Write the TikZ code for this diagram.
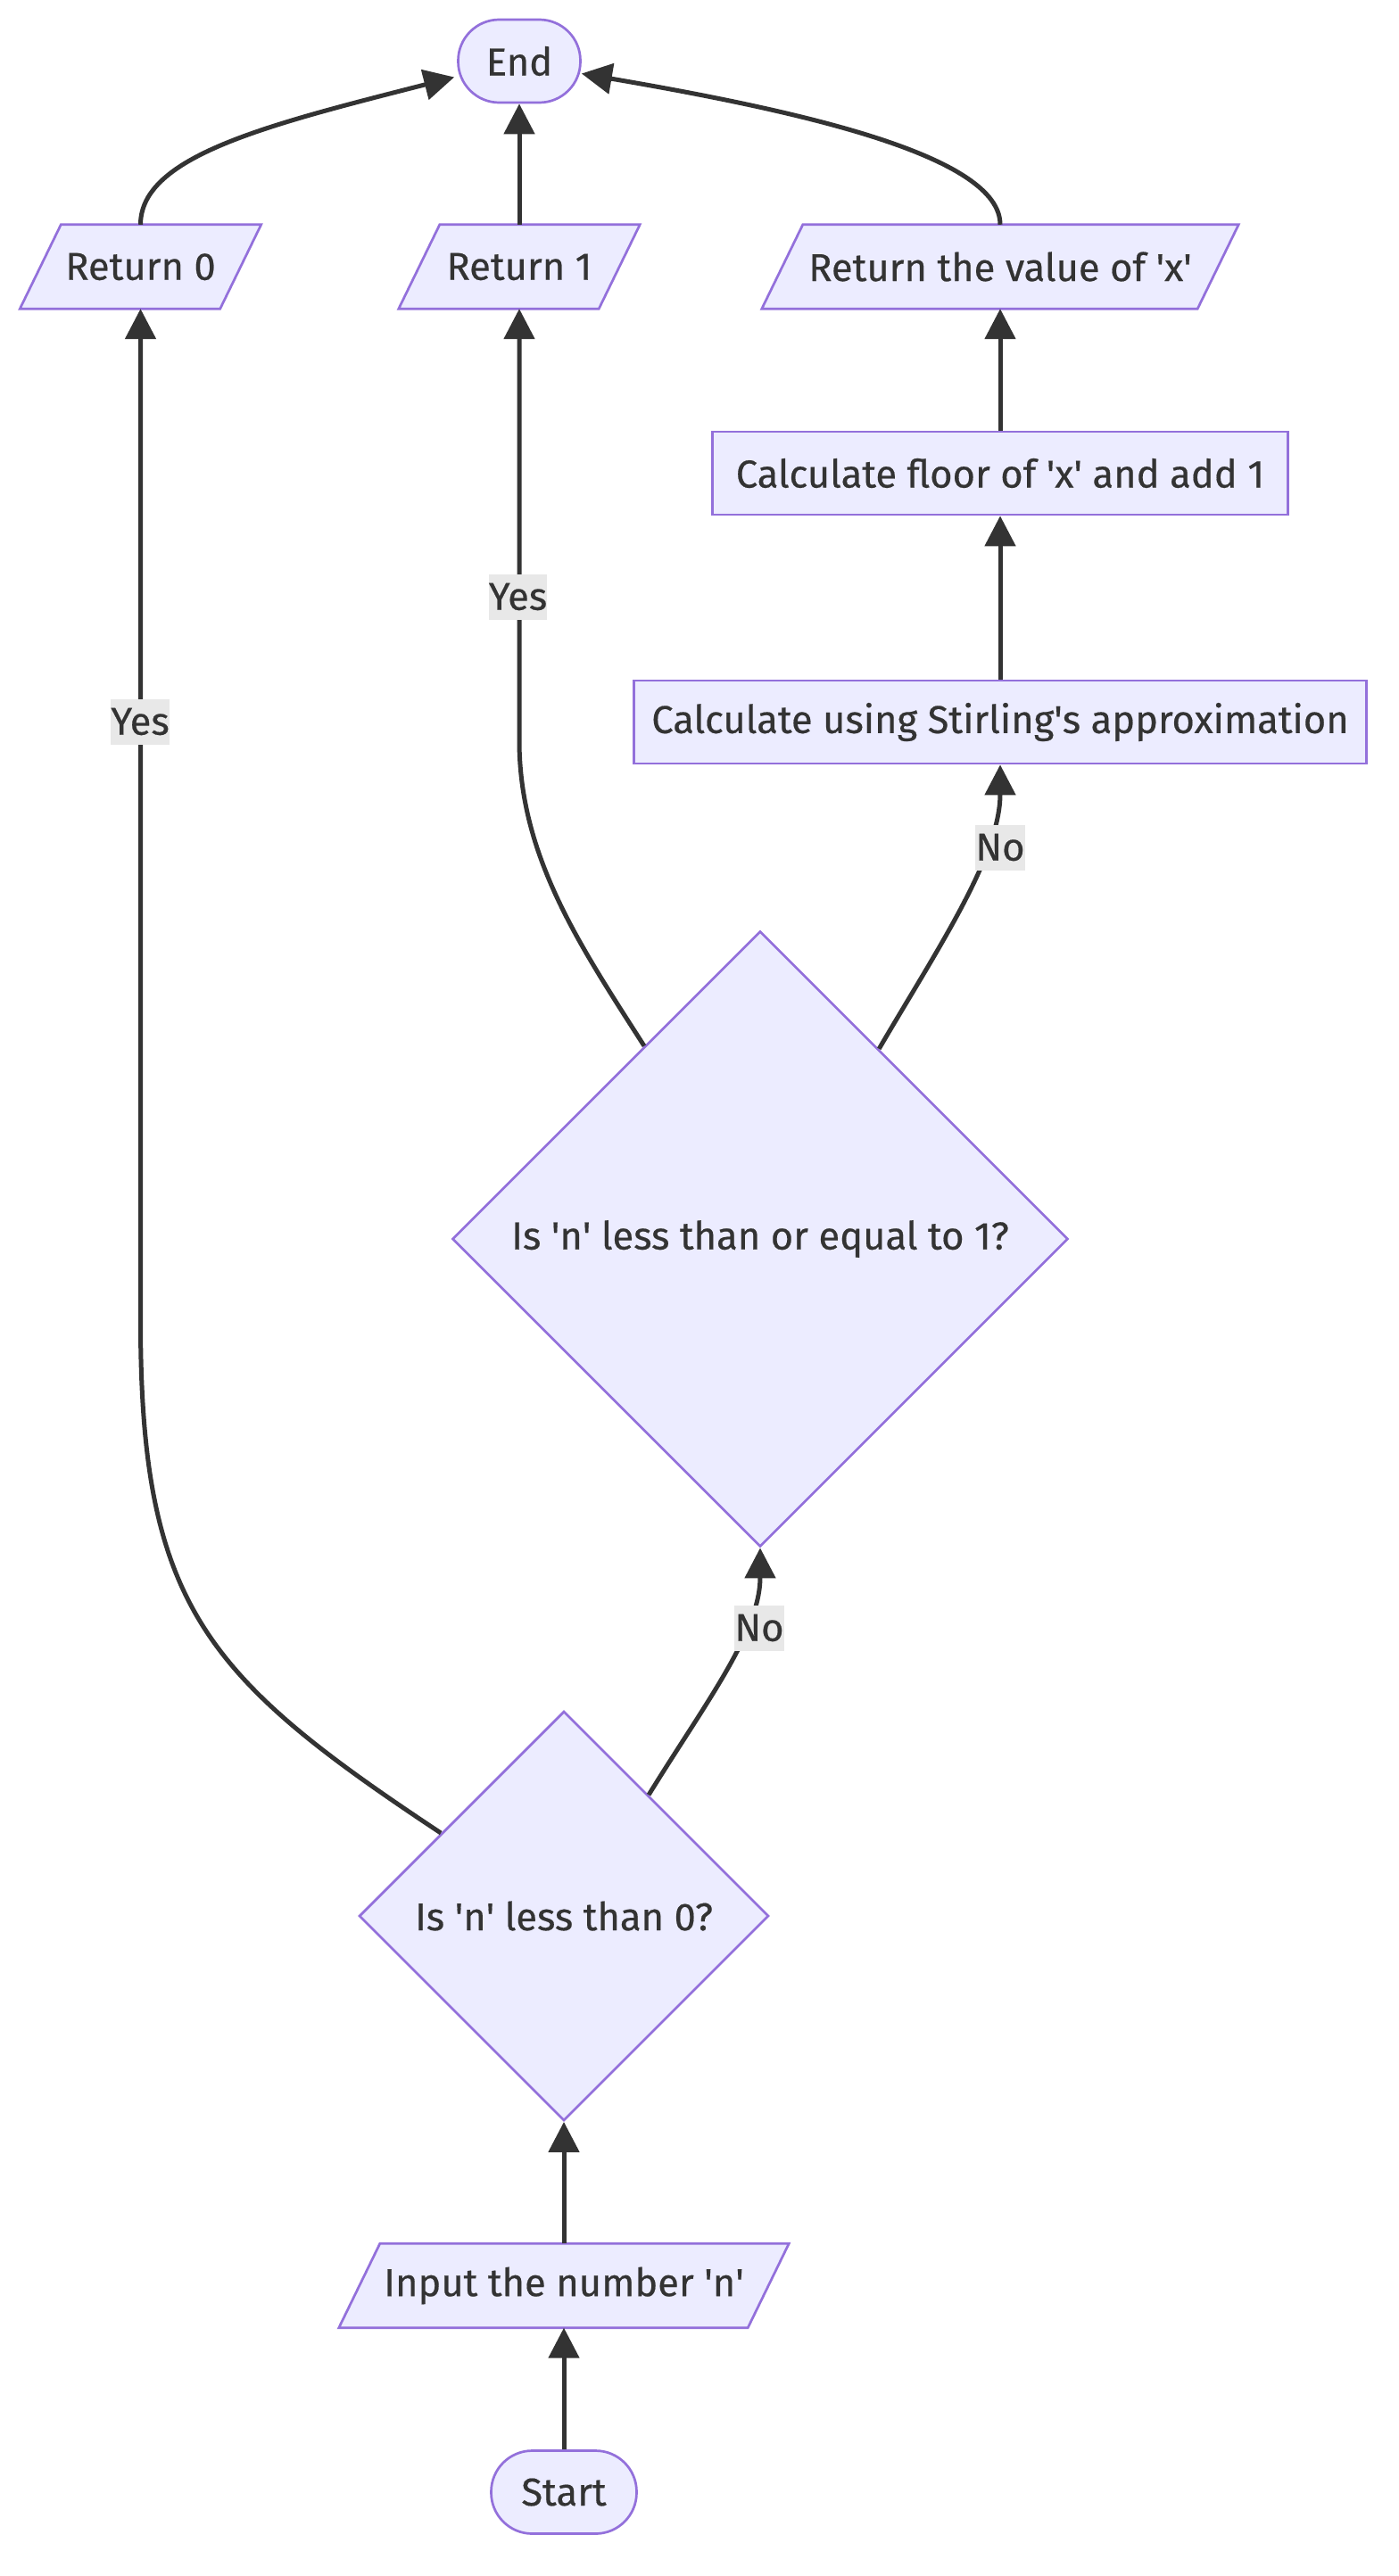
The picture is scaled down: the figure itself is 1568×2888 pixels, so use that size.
\documentclass[tikz,border=0pt]{standalone}
\usepackage{fontspec}
\setmainfont{Fira Sans}[FakeBold=0.4]
\usetikzlibrary{arrows.meta,calc,shapes.geometric}
\definecolor{nodefill}{HTML}{ECECFF}
\definecolor{nodeline}{HTML}{9370DB}
\definecolor{ink}{HTML}{333333}
\definecolor{lblbg}{HTML}{E8E8E8}
\newcommand{\sq}{\textquotesingle}
\pgfdeclarelayer{background}
\pgfsetlayers{background,main}
% slanted input/output box drawn behind a text node
\newcommand{\iobox}[1]{%
  \path[base] ($(#1.north west)+(46,0)$) -- (#1.north east)
    -- ($(#1.south east)+(-46,0)$) -- (#1.south west) -- cycle;}
\begin{document}
\begin{tikzpicture}[x=1pt,y=-1pt,
  every node/.style={text=ink, font=\fontsize{43.5}{52}\selectfont},
  base/.style={draw=nodeline, fill=nodefill, line width=2.7pt, inner sep=0pt},
  terminal/.style={base, rectangle, rounded corners=46pt, minimum height=93pt},
  io/.style={rectangle, inner sep=0pt, minimum height=94pt},
  process/.style={base, rectangle, minimum height=93pt},
  decision/.style={base, diamond, aspect=1},
  edge/.style={draw=ink, line width=5pt, -{Triangle[length=34pt,width=34pt]}},
  lbl/.style={fill=lblbg, inner xsep=0pt, inner ysep=0pt, minimum height=51pt},
]
\useasboundingbox (0,0) rectangle (1568,2888);
\begin{pgfonlayer}{background}
\fill[white] (0,0) rectangle (1568,2888);
\end{pgfonlayer}

% nodes
\node[terminal, minimum width=137pt] (endn) at (582,68.5) {End};
\node[io, minimum width=270pt] (ret0) at (157.5,299) {Return 0};
\node[io, minimum width=270pt] (ret1) at (582,299) {Return 1};
\node[io, minimum width=534pt] (retx) at (1121,299) {Return the value of \sq x\sq};
\node[process, minimum width=645pt] (floor) at (1121,530.5) {Calculate floor of \sq x\sq\ and add 1};
\node[process, minimum width=821pt] (stir) at (1121,809.5) {Calculate using Stirling\sq s approximation};
\node[decision, minimum width=690pt, minimum height=690pt] (d2) at (852,1389) {Is \sq n\sq\ less than or equal to 1?};
\node[decision, minimum width=459pt, minimum height=459pt] (d1) at (632,2148) {Is \sq n\sq\ less than 0?};
\node[io, minimum width=504pt] (inp) at (632,2562.5) {Input the number \sq n\sq};
\node[terminal, minimum width=163pt] (start) at (632,2794) {Start};

\begin{pgfonlayer}{background}
\iobox{ret0}
\iobox{ret1}
\iobox{retx}
\iobox{inp}
\end{pgfonlayer}

% connectors
\draw[edge] (start.north) -- (inp.south);
\draw[edge] (inp.north) -- (d1.south);
\draw[edge] (d1.146) .. controls (230,1880) and (157.5,1800) .. (157.5,1480) -- (ret0.south);
\draw[edge] (d1.55) .. controls (790,1910) and (852,1830) .. (d2.south);
\draw[edge] (d2.121.5) .. controls (650,1060) and (582,960) .. (582,830) -- (ret1.south);
\draw[edge] (d2.58.5) .. controls (1050,1065) and (1121,960) .. (stir.south);
\draw[edge] (stir.north) -- (floor.south);
\draw[edge] (floor.north) -- (retx.south);
\draw[edge] (ret0.north) .. controls (157.5,175) and (300,140) .. ($(endn.west)+(-3,18)$);
\draw[edge] (ret1.north) -- (endn.south);
\draw[edge] (retx.north) .. controls (1121,175) and (900,125) .. ($(endn.east)+(0,14)$);

% edge labels
\node[lbl] (ly0) at (157,809) {Yes};
\node[lbl] (ly1) at (580.5,669) {Yes};
\node[lbl] (ln1) at (851,1825) {No};
\node[lbl] (ln2) at (1121,950) {No};
\end{tikzpicture}
\end{document}
